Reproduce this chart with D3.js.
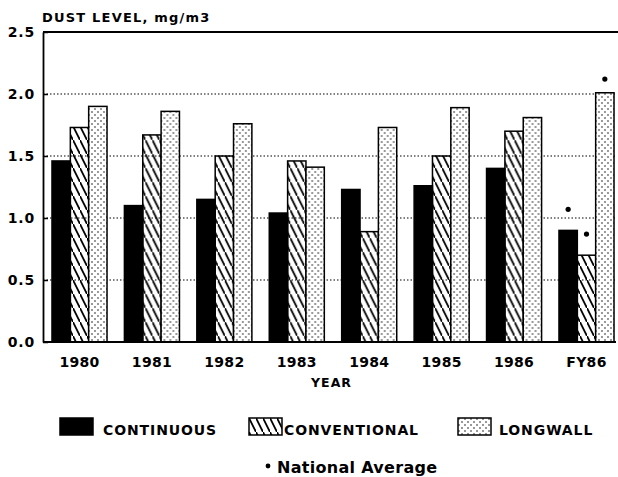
<!DOCTYPE html>
<html>
<head>
<meta charset="utf-8">
<script src="https://cdn.jsdelivr.net/npm/d3@7"></script>
<style>
  body { margin: 0; background: #fff; }
  text { font-family: "DejaVu Sans", sans-serif; font-weight: bold; fill: #000; }
</style>
</head>
<body>
<div id="chart"></div>
<script>
// data
const years = ['1980', '1981', '1982', '1983', '1984', '1985', '1986', 'FY86'];
const series = ['continuous', 'conventional', 'longwall'];
const seriesLabels = ['CONTINUOUS', 'CONVENTIONAL', 'LONGWALL'];
const continuous = [1.46, 1.10, 1.15, 1.04, 1.23, 1.26, 1.40, 0.90];
const conventional = [1.73, 1.67, 1.50, 1.46, 0.89, 1.50, 1.70, 0.70];
const longwall = [1.90, 1.86, 1.76, 1.41, 1.73, 1.89, 1.81, 2.01];
// national average markers, only for FY86
const nationalAvg = [1.07, 0.87, 2.12];
const yTicks = [0, 0.5, 1.0, 1.5, 2.0, 2.5];

const width = 618, height = 477;
const plotLeft = 43, plotRight = 616, plotTop = 32, plotBottom = 342;

let svg = d3.select('#chart').append('svg')
  .attr('width', width)
  .attr('height', height);

// patterns
let defs = svg.append('defs');
defs.append('pattern')
  .attr('id', 'hatch')
  .attr('patternUnits', 'userSpaceOnUse')
  .attr('width', 7).attr('height', 14)
  .append('path')
  .attr('d', 'M0,0L7,14M-1,-2L1,2M6,12L8,16')
  .attr('stroke', '#000')
  .attr('stroke-width', 1.8);
let dots = defs.append('pattern')
  .attr('id', 'dots')
  .attr('patternUnits', 'userSpaceOnUse')
  .attr('width', 6).attr('height', 6);
dots.append('rect').attr('width', 6).attr('height', 6).attr('fill', '#fff');
dots.selectAll('circle').data([[1, 1], [4, 4]]).enter().append('circle')
  .attr('cx', d => d[0]).attr('cy', d => d[1]).attr('r', 0.75).attr('fill', '#000');

const fills = {continuous: '#000', conventional: 'url(#hatch)', longwall: 'url(#dots)'};
const values = {continuous, conventional, longwall};

// scales
let x = d3.scaleBand()
  .domain(years)
  .range([plotLeft, 623])
  .paddingInner(0.24)
  .paddingOuter(0.124);
let x1 = d3.scaleBand()
  .domain(series)
  .range([0, x.bandwidth()]);
let y = d3.scaleLinear()
  .domain([0, 2.5])
  .range([plotBottom, plotTop]);

// gridlines
svg.append('g')
  .selectAll('line')
  .data(yTicks.filter(d => d > 0 && d < 2.5))
  .enter().append('line')
  .attr('x1', plotLeft).attr('x2', plotRight)
  .attr('y1', d => y(d)).attr('y2', d => y(d))
  .attr('stroke', '#000')
  .attr('stroke-width', 1.1)
  .attr('stroke-dasharray', '1.5,2');

// bars
let groups = svg.append('g')
  .selectAll('g')
  .data(years)
  .enter().append('g')
  .attr('transform', d => 'translate(' + x(d) + ',0)');

groups.selectAll('rect')
  .data((d, i) => series.map(s => ({key: s, value: values[s][i]})))
  .enter().append('rect')
  .attr('x', d => x1(d.key))
  .attr('y', d => y(d.value))
  .attr('width', x1.bandwidth())
  .attr('height', d => y(0) - y(d.value))
  .attr('fill', d => fills[d.key])
  .attr('stroke', '#000')
  .attr('stroke-width', 1.5);

// national average dots
svg.append('g')
  .selectAll('circle')
  .data(nationalAvg)
  .enter().append('circle')
  .attr('cx', (d, i) => x('FY86') + x1(series[i]) + x1.bandwidth() / 2)
  .attr('cy', d => y(d))
  .attr('r', 2.6)
  .attr('fill', '#000');

// frame: top line, baseline, left axis
svg.append('line')
  .attr('x1', plotLeft).attr('x2', width)
  .attr('y1', y(2.5)).attr('y2', y(2.5))
  .attr('stroke', '#000').attr('stroke-width', 1.8);
svg.append('line')
  .attr('x1', plotLeft).attr('x2', plotRight)
  .attr('y1', y(0)).attr('y2', y(0))
  .attr('stroke', '#000').attr('stroke-width', 1.8);

let yAxis = svg.append('g')
  .attr('transform', 'translate(' + plotLeft + ',0)')
  .call(d3.axisLeft(y).tickValues(yTicks).tickFormat(d3.format('.1f')).tickSizeInner(-5).tickSizeOuter(0).tickPadding(8));
yAxis.select('.domain').attr('stroke-width', 1.8);
yAxis.selectAll('.tick line').attr('stroke-width', 1.5);
yAxis.selectAll('text')
  .attr('font-family', '"DejaVu Sans", sans-serif')
  .attr('font-size', 14)
  .attr('font-weight', 'bold')
  .attr('letter-spacing', 0.8);

// x labels
svg.append('g')
  .selectAll('text')
  .data(years)
  .enter().append('text')
  .attr('x', d => x(d) + x.bandwidth() / 2)
  .attr('y', 367)
  .attr('text-anchor', 'middle')
  .attr('font-size', 14)
  .attr('letter-spacing', 0.3)
  .text(d => d);

svg.append('text')
  .attr('x', (plotLeft + plotRight) / 2 + 2)
  .attr('y', 387)
  .attr('text-anchor', 'middle')
  .attr('font-size', 12.5)
  .attr('letter-spacing', 1)
  .text('YEAR');

// title
svg.append('text')
  .attr('x', 42)
  .attr('y', 22)
  .attr('font-size', 13)
  .attr('letter-spacing', 1.2)
  .text('DUST LEVEL, mg/m3');

// legend
const legendX = [60, 249, 458];
let legend = svg.append('g')
  .selectAll('g')
  .data(series)
  .enter().append('g')
  .attr('transform', (d, i) => 'translate(' + legendX[i] + ',418)');
legend.append('rect')
  .attr('width', 33).attr('height', 17)
  .attr('fill', d => fills[d])
  .attr('stroke', '#000')
  .attr('stroke-width', 1.5);
legend.append('text')
  .attr('x', (d, i) => [43, 35, 41][i])
  .attr('y', 17)
  .attr('font-size', 14)
  .attr('letter-spacing', 0.9)
  .text((d, i) => seriesLabels[i]);

svg.append('circle')
  .attr('cx', 268).attr('cy', 466)
  .attr('r', 2.4)
  .attr('fill', '#000');
svg.append('text')
  .attr('x', 277)
  .attr('y', 473)
  .attr('font-size', 16)
  .attr('letter-spacing', 0.3)
  .text('National Average');
</script>
</body>
</html>
